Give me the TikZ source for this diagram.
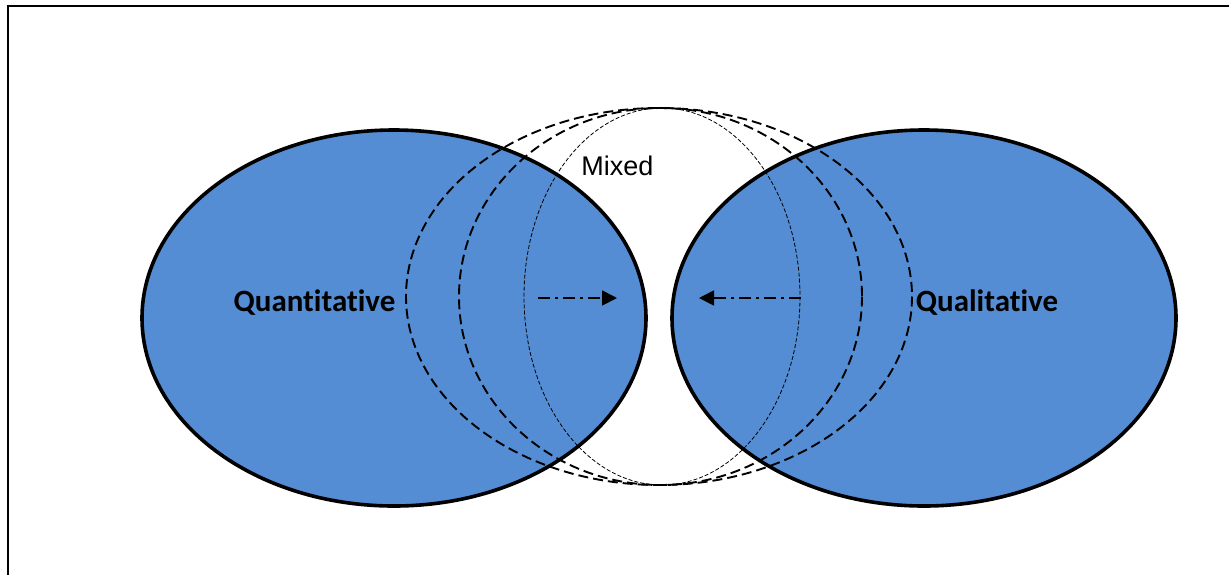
\documentclass[tikz,border=0pt]{standalone}
\usepackage{fontspec}
\setmainfont{Liberation Sans}
\newfontfamily\labelfont[Ligatures=NoCommon]{Carlito}
\usetikzlibrary{arrows.meta}
\definecolor{paradigmblue}{RGB}{84,141,212}
\tikzset{
  paradigm/.style={fill=paradigmblue, draw=black, line width=3.6pt},
  overlap/.style={draw=black, line width=1.9pt, dash pattern=on 10pt off 5pt},
  core/.style={draw=black, line width=0.8pt, dash pattern=on 4pt off 2pt},
  moveline/.style={line width=1.8pt, dash pattern=on 12pt off 5pt on 3pt off 5pt,
    -{Triangle[length=15pt,width=15pt]}},
  biglabel/.style={anchor=base, inner sep=0pt, font=\labelfont\bfseries\fontsize{31}{36}\selectfont},
  mixlabel/.style={anchor=base, inner sep=0pt, font=\fontsize{27}{32}\selectfont}
}
\begin{document}
\begin{tikzpicture}[x=1pt,y=-1pt]
  \useasboundingbox (0,0) rectangle (1229,574);
  % frame
  \draw[line width=1.6pt] (8,580) -- (8,6) -- (1235,6);
  % the two paradigms
  \draw[paradigm] (394,318) ellipse [x radius=252, y radius=188];
  \draw[paradigm] (924,318) ellipse [x radius=252, y radius=188];
  % the mixed region, widening outward
  \draw[overlap] (659,296.5) ellipse [x radius=253, y radius=188.5];
  \draw[overlap] (660.5,296.5) ellipse [x radius=201.5, y radius=188.5];
  \draw[core] (662,296.5) ellipse [x radius=138, y radius=188.5];
  % labels
  \node[biglabel] (quant) at (314.5,311) {Quantitative};
  \node[biglabel] (qual) at (987,311) {Qualitative};
  \node[mixlabel] (mixed) at (617.5,175) {Mixed};
  % movement arrows
  \coordinate (la) at (538,298);
  \coordinate (lb) at (617,298);
  \coordinate (ra) at (801,298);
  \coordinate (rb) at (699,298);
  \draw[moveline] (la) -- (lb);
  \draw[moveline] (ra) -- (rb);
\end{tikzpicture}
\end{document}
